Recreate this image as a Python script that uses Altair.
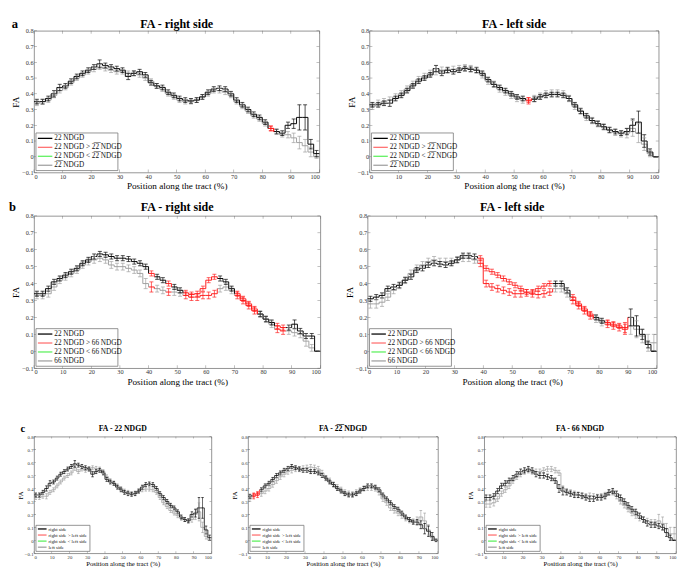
import altair as alt
import pandas as pd

# ---------------- data (every 2 % of the tract) ----------------
POS = list(range(0, 100, 2))
STEP = 2
XTICKS = list(range(0, 101, 10))
YTICKS = [-0.1, 0.0, 0.1, 0.2, 0.3, 0.4, 0.5, 0.6, 0.7, 0.8]

# panel a, right side: 22 NDGD (black) and 22-bar NDGD (gray)
A_R_22 = [0.35, 0.35, 0.37, 0.40, 0.44, 0.45, 0.48, 0.51, 0.53, 0.55,
          0.57, 0.59, 0.58, 0.57, 0.56, 0.55, 0.51, 0.53, 0.54, 0.52,
          0.47, 0.45, 0.44, 0.41, 0.39, 0.37, 0.36, 0.355, 0.36, 0.38,
          0.41, 0.43, 0.435, 0.43, 0.40, 0.36, 0.33, 0.30, 0.27, 0.25,
          0.22, 0.18, 0.16, 0.15, 0.20, 0.21, 0.25, 0.25, 0.08, 0.02]
A_R_22_E = [0.015, 0.015, 0.015, 0.02, 0.02, 0.015, 0.015, 0.015, 0.015, 0.015,
            0.015, 0.025, 0.015, 0.015, 0.015, 0.015, 0.02, 0.015, 0.015, 0.015,
            0.015, 0.015, 0.015, 0.015, 0.015, 0.015, 0.015, 0.015, 0.015, 0.015,
            0.015, 0.015, 0.015, 0.015, 0.015, 0.015, 0.015, 0.015, 0.015, 0.015,
            0.015, 0.015, 0.015, 0.015, 0.02, 0.03, 0.08, 0.08, 0.03, 0.02]
A_R_BAR = [0.34, 0.35, 0.36, 0.39, 0.42, 0.44, 0.47, 0.50, 0.52, 0.54,
           0.555, 0.57, 0.56, 0.55, 0.54, 0.54, 0.53, 0.53, 0.52, 0.50,
           0.48, 0.45, 0.43, 0.40, 0.38, 0.36, 0.35, 0.35, 0.36, 0.38,
           0.40, 0.42, 0.42, 0.41, 0.39, 0.35, 0.32, 0.29, 0.26, 0.24,
           0.21, 0.18, 0.16, 0.14, 0.14, 0.12, 0.09, 0.07, 0.03, 0.0]
A_R_BAR_E = [0.015, 0.015, 0.015, 0.015, 0.015, 0.015, 0.015, 0.015, 0.015, 0.015,
             0.015, 0.015, 0.015, 0.015, 0.015, 0.015, 0.015, 0.015, 0.015, 0.015,
             0.015, 0.015, 0.015, 0.015, 0.015, 0.015, 0.015, 0.015, 0.015, 0.015,
             0.015, 0.015, 0.015, 0.015, 0.015, 0.015, 0.015, 0.015, 0.015, 0.015,
             0.015, 0.015, 0.015, 0.015, 0.02, 0.03, 0.04, 0.04, 0.03, 0.01]
A_R_SIG = [82]

# panel a, left side
A_L_22 = [0.33, 0.33, 0.34, 0.34, 0.37, 0.39, 0.42, 0.45, 0.48, 0.50,
          0.52, 0.56, 0.53, 0.55, 0.54, 0.55, 0.56, 0.555, 0.55, 0.53,
          0.49, 0.46, 0.44, 0.42, 0.40, 0.38, 0.37, 0.36, 0.365, 0.38,
          0.39, 0.395, 0.395, 0.39, 0.37, 0.33, 0.29, 0.26, 0.23, 0.21,
          0.19, 0.17, 0.16, 0.15, 0.16, 0.20, 0.22, 0.10, 0.03, 0.0]
A_L_22_E = [0.015, 0.015, 0.015, 0.02, 0.015, 0.015, 0.015, 0.015, 0.015, 0.015,
            0.015, 0.02, 0.015, 0.015, 0.015, 0.015, 0.015, 0.015, 0.015, 0.015,
            0.015, 0.015, 0.015, 0.015, 0.015, 0.015, 0.015, 0.015, 0.015, 0.015,
            0.015, 0.015, 0.015, 0.015, 0.015, 0.015, 0.015, 0.015, 0.015, 0.015,
            0.015, 0.015, 0.015, 0.015, 0.02, 0.04, 0.07, 0.04, 0.02, 0.0]
A_L_BAR = [0.32, 0.34, 0.35, 0.36, 0.38, 0.40, 0.43, 0.46, 0.49, 0.51,
           0.53, 0.54, 0.55, 0.55, 0.555, 0.56, 0.565, 0.56, 0.55, 0.52,
           0.48, 0.46, 0.43, 0.41, 0.39, 0.37, 0.36, 0.355, 0.37, 0.385,
           0.40, 0.405, 0.405, 0.40, 0.37, 0.32, 0.29, 0.25, 0.23, 0.21,
           0.19, 0.17, 0.155, 0.145, 0.15, 0.18, 0.15, 0.08, 0.02, 0.0]
A_L_BAR_E = [0.02, 0.02, 0.02, 0.02, 0.02, 0.02, 0.02, 0.02, 0.02, 0.02,
             0.02, 0.02, 0.02, 0.02, 0.02, 0.02, 0.02, 0.02, 0.02, 0.02,
             0.02, 0.02, 0.02, 0.02, 0.02, 0.02, 0.02, 0.02, 0.02, 0.02,
             0.02, 0.02, 0.02, 0.02, 0.02, 0.02, 0.02, 0.02, 0.02, 0.02,
             0.02, 0.02, 0.02, 0.02, 0.03, 0.05, 0.06, 0.04, 0.02, 0.0]
A_L_SIG = [54]

# panel b, right side: 22 NDGD (black) and 66 NDGD (gray)
B_R_22 = [0.34, 0.34, 0.37, 0.41, 0.43, 0.45, 0.47, 0.49, 0.52, 0.54,
          0.56, 0.575, 0.57, 0.56, 0.55, 0.55, 0.545, 0.53, 0.52, 0.50,
          0.46, 0.44, 0.42, 0.40, 0.38, 0.36, 0.345, 0.335, 0.34, 0.37,
          0.42, 0.44, 0.43, 0.41, 0.37, 0.34, 0.31, 0.28, 0.25, 0.22,
          0.19, 0.17, 0.15, 0.14, 0.14, 0.16, 0.12, 0.09, 0.09, 0.0]
B_R_22_E = [0.015, 0.015, 0.015, 0.015, 0.015, 0.015, 0.015, 0.015, 0.015, 0.015,
            0.015, 0.015, 0.015, 0.015, 0.015, 0.015, 0.015, 0.015, 0.015, 0.015,
            0.015, 0.015, 0.015, 0.015, 0.015, 0.015, 0.015, 0.015, 0.015, 0.015,
            0.015, 0.015, 0.015, 0.015, 0.015, 0.015, 0.015, 0.015, 0.015, 0.015,
            0.015, 0.015, 0.015, 0.015, 0.015, 0.025, 0.015, 0.015, 0.015, 0.0]
B_R_66 = [0.33, 0.33, 0.34, 0.38, 0.42, 0.44, 0.46, 0.48, 0.51, 0.53,
          0.54, 0.55, 0.54, 0.51, 0.50, 0.50, 0.49, 0.48, 0.46, 0.40,
          0.38, 0.37, 0.36, 0.35, 0.35, 0.345, 0.33, 0.32, 0.32, 0.33,
          0.33, 0.34, 0.37, 0.38, 0.36, 0.33, 0.30, 0.27, 0.24, 0.22,
          0.19, 0.16, 0.13, 0.12, 0.12, 0.11, 0.10, 0.06, 0.02, 0.0]
B_R_66_E = [0.02, 0.02, 0.02, 0.02, 0.02, 0.02, 0.02, 0.02, 0.02, 0.02,
            0.02, 0.02, 0.02, 0.02, 0.02, 0.02, 0.02, 0.02, 0.02, 0.03,
            0.03, 0.02, 0.02, 0.02, 0.02, 0.02, 0.02, 0.02, 0.02, 0.02,
            0.02, 0.02, 0.02, 0.02, 0.02, 0.02, 0.02, 0.02, 0.02, 0.02,
            0.02, 0.02, 0.02, 0.02, 0.02, 0.02, 0.02, 0.03, 0.02, 0.0]
B_R_SIG = [40, 46, 52, 54, 56, 58, 60, 62, 70, 72, 74, 76, 84, 86]

# panel b, left side
B_L_22 = [0.31, 0.32, 0.33, 0.37, 0.38, 0.39, 0.42, 0.44, 0.48, 0.49,
          0.51, 0.52, 0.515, 0.51, 0.52, 0.54, 0.565, 0.565, 0.56, 0.55,
          0.49, 0.47, 0.45, 0.43, 0.41, 0.39, 0.37, 0.35, 0.35, 0.37,
          0.385, 0.40, 0.40, 0.40, 0.36, 0.32, 0.28, 0.25, 0.22, 0.20,
          0.18, 0.17, 0.16, 0.15, 0.14, 0.20, 0.15, 0.10, 0.04, 0.0]
B_L_22_E = [0.015, 0.015, 0.015, 0.015, 0.015, 0.015, 0.015, 0.015, 0.015, 0.015,
            0.015, 0.015, 0.015, 0.015, 0.015, 0.015, 0.015, 0.015, 0.015, 0.015,
            0.015, 0.015, 0.015, 0.015, 0.015, 0.015, 0.015, 0.015, 0.015, 0.015,
            0.015, 0.015, 0.015, 0.015, 0.015, 0.015, 0.015, 0.015, 0.015, 0.015,
            0.015, 0.015, 0.015, 0.015, 0.03, 0.05, 0.06, 0.03, 0.02, 0.0]
B_L_66 = [0.28, 0.28, 0.29, 0.32, 0.36, 0.39, 0.42, 0.46, 0.49, 0.51,
          0.53, 0.54, 0.53, 0.53, 0.53, 0.54, 0.55, 0.55, 0.54, 0.52,
          0.40, 0.38, 0.37, 0.36, 0.35, 0.34, 0.34, 0.345, 0.34, 0.335,
          0.34, 0.35, 0.37, 0.37, 0.34, 0.30, 0.27, 0.24, 0.21, 0.19,
          0.17, 0.16, 0.15, 0.14, 0.13, 0.15, 0.13, 0.09, 0.05, 0.05]
B_L_66_E = [0.025, 0.025, 0.025, 0.02, 0.02, 0.02, 0.02, 0.02, 0.02, 0.02,
            0.02, 0.02, 0.02, 0.02, 0.02, 0.02, 0.02, 0.02, 0.02, 0.02,
            0.02, 0.02, 0.02, 0.02, 0.02, 0.02, 0.02, 0.02, 0.02, 0.02,
            0.02, 0.02, 0.02, 0.02, 0.02, 0.02, 0.02, 0.02, 0.02, 0.02,
            0.02, 0.02, 0.02, 0.02, 0.03, 0.05, 0.05, 0.04, 0.05, 0.05]
B_L_SIG = [38, 40, 42, 44, 46, 48, 50, 52, 54, 56, 58, 60, 62, 70, 72, 74, 76, 82, 84, 86, 88]

C_MID_SIG = [2, 4]

OVER = "2\u03052\u0305"
TITLES_AB = ["FA - right side", "FA - left side"]
TITLES_C = ["FA - 22 NDGD", "FA - " + OVER + " NDGD", "FA - 66 NDGD"]
LEG_A = ["22 NDGD", "22 NDGD > " + OVER + " NDGD", "22 NDGD < " + OVER + " NDGD", OVER + " NDGD"]
LEG_B = ["22 NDGD", "22 NDGD > 66 NDGD", "22 NDGD < 66 NDGD", "66 NDGD"]
LEG_C = ["right side", "right side > left side", "right side < left side", "left side"]

BLACK = "#000000"
GRAY = "#9e9e9e"
RED = "#ff1a1a"
LEG_COLORS = ["#000000", "#ff6e6e", "#5cf05c", "#a0a0a0"]
SERIF = "Liberation Serif"

BIG = dict(lw=1.0, ew=0.7, cap=0.7, lfs=6.5, afs=9.5, tfs=12.5, ty=-9,
           lg_w=85, lg_h=39, lg_row=9.3, lg_line=15, lg_fs=7.5, tk=3, lpad=1, ltfs=13)
SMALL = dict(lw=0.8, ew=0.6, cap=0.7, lfs=5, afs=7, tfs=8, ty=-8,
             lg_w=56, lg_h=27, lg_row=6.3, lg_line=9, lg_fs=5, tk=2, lpad=1, ltfs=11)


def build_df(s1, e1, s2, e2, sig):
    rows = []
    for z, (ys, es, col) in enumerate([(s2, e2, GRAY), (s1, e1, BLACK)]):
        for i, x in enumerate(POS):
            y = ys[i]
            yn = ys[i + 1] if i + 1 < len(ys) else ys[i]
            e = es[i]
            red = x in sig
            rows.append(dict(x=x, xe=x + STEP, xm=x + STEP / 2,
                             xl=x + STEP / 2 - 0.7, xr=x + STEP / 2 + 0.7,
                             y=y, yn=yn, lo=y - e, hi=y + e,
                             c=RED if red else col, z=2 if red else z))
    return pd.DataFrame(rows).sort_values("z", kind="stable")


def panel(s1, e1, s2, e2, sig, title, labels, w, h, S, letter=None, letter_dx=-22, ty=None):
    if ty is None:
        ty = S["ty"]
    df = build_df(s1, e1, s2, e2, sig)
    base = alt.Chart(df)
    xs = alt.Scale(domain=[0, 100], nice=False, zero=False)
    ys = alt.Scale(domain=[-0.1, 0.8], nice=False, zero=False)
    col = alt.Color("c:N", scale=None, legend=None)
    common = dict(labelFontSize=S["lfs"], titleFontSize=S["afs"], labelFont=SERIF,
                  titleFont=SERIF, titleFontWeight="normal", ticks=False, domain=False,
                  grid=False, labelPadding=S["lpad"], labelColor="#333333", titleColor="#000000")
    xaxis = alt.Axis(title="Position along the tract (%)", values=XTICKS, titlePadding=1, **common)
    yaxis = alt.Axis(title="FA", values=YTICKS, titlePadding=1,
                     labelExpr="datum.value == 0 ? '0' : format(datum.value, '.1f')", **common)

    def X(f):
        return alt.X(f, scale=xs, axis=xaxis)

    def Y(f):
        return alt.Y(f, scale=ys, axis=yaxis)

    err = base.mark_rule(strokeWidth=S["ew"]).encode(x=X("xm:Q"), y=Y("lo:Q"), y2="hi:Q", color=col)
    caplo = base.mark_rule(strokeWidth=S["cap"]).encode(x=X("xl:Q"), x2="xr:Q", y=Y("lo:Q"), color=col)
    caphi = base.mark_rule(strokeWidth=S["cap"]).encode(x=X("xl:Q"), x2="xr:Q", y=Y("hi:Q"), color=col)
    hor = base.mark_rule(strokeWidth=S["lw"]).encode(x=X("x:Q"), x2="xe:Q", y=Y("y:Q"), color=col)
    ver = base.mark_rule(strokeWidth=S["lw"]).encode(x=X("xe:Q"), y=Y("y:Q"), y2="yn:Q", color=col)

    xt = pd.DataFrame({"t": XTICKS})
    yt = pd.DataFrame({"t": YTICKS})
    tk = S["tk"]
    tick_kw = dict(thickness=0.6, color="#666666", size=tk)
    ticks = [
        alt.Chart(xt).mark_tick(orient="vertical", **tick_kw).encode(x=X("t:Q"), y=alt.value(h - tk / 2)),
        alt.Chart(xt).mark_tick(orient="vertical", **tick_kw).encode(x=X("t:Q"), y=alt.value(tk / 2)),
        alt.Chart(yt).mark_tick(orient="horizontal", **tick_kw).encode(y=Y("t:Q"), x=alt.value(tk / 2)),
        alt.Chart(yt).mark_tick(orient="horizontal", **tick_kw).encode(y=Y("t:Q"), x=alt.value(w - tk / 2)),
    ]

    one = pd.DataFrame({"k": [0]})
    lx = 2
    ly = h - S["lg_h"] - 2
    legend = [alt.Chart(one).mark_rect(fill="white", stroke="#777777", strokeWidth=0.8).encode(
        x=alt.value(lx), x2=alt.value(lx + S["lg_w"]), y=alt.value(ly), y2=alt.value(ly + S["lg_h"]))]
    for i, (lab, c) in enumerate(zip(labels, LEG_COLORS)):
        yy = ly + S["lg_row"] * (i + 0.6)
        legend.append(alt.Chart(one).mark_rule(color=c, strokeWidth=1.3).encode(
            x=alt.value(lx + 2), x2=alt.value(lx + 2 + S["lg_line"]), y=alt.value(yy)))
        legend.append(alt.Chart(one).mark_text(text=lab, align="left", baseline="middle",
                                               font=SERIF, fontSize=S["lg_fs"], color="#111111").encode(
            x=alt.value(lx + 4 + S["lg_line"]), y=alt.value(yy)))

    title_mark = alt.Chart(one).mark_text(text=title, align="center", baseline="middle", font=SERIF,
                                          fontSize=S["tfs"], fontWeight="bold", color="#000000").encode(
        x=alt.value(w / 2), y=alt.value(ty))

    layers = [hor, err, caplo, caphi, ver] + ticks + legend + [title_mark]
    if letter:
        layers.append(alt.Chart(one).mark_text(text=letter, align="left", baseline="middle",
                                               font=SERIF, fontSize=S["ltfs"], fontWeight="bold").encode(
            x=alt.value(letter_dx), y=alt.value(ty)))
    return alt.layer(*layers).properties(width=w, height=h)


pa1 = panel(A_R_22, A_R_22_E, A_R_BAR, A_R_BAR_E, A_R_SIG, TITLES_AB[0], LEG_A, 296, 147, BIG, "a", -23, ty=-6.5)
pa2 = panel(A_L_22, A_L_22_E, A_L_BAR, A_L_BAR_E, A_L_SIG, TITLES_AB[1], LEG_A, 300, 147, BIG, ty=-6.5)
pb1 = panel(B_R_22, B_R_22_E, B_R_66, B_R_66_E, B_R_SIG, TITLES_AB[0], LEG_B, 297, 158, BIG, "b", -26)
pb2 = panel(B_L_22, B_L_22_E, B_L_66, B_L_66_E, B_L_SIG, TITLES_AB[1], LEG_B, 300, 158, BIG)
pc1 = panel(A_R_22, A_R_22_E, A_L_22, A_L_22_E, [], TITLES_C[0], LEG_C, 184, 121, SMALL, "c", -14)
pc2 = panel(A_R_BAR, A_R_BAR_E, A_L_BAR, A_L_BAR_E, C_MID_SIG, TITLES_C[1], LEG_C, 197, 121, SMALL)
pc3 = panel(B_R_66, B_R_66_E, B_L_66, B_L_66_E, [], TITLES_C[2], LEG_C, 199, 121, SMALL)

row_a = alt.hconcat(pa1, pa2, spacing=26)
row_b = alt.hconcat(pb1, pb2, spacing=23)
row_c = alt.hconcat(alt.hconcat(pc1, pc2, spacing=18), pc3, spacing=28)

chart = alt.vconcat(alt.vconcat(row_a, row_b, spacing=10), row_c, spacing=37,
                    padding={"left": 0, "top": 0, "right": 0, "bottom": 0}).configure(
    padding={"left": 0, "top": 0, "right": 0, "bottom": 0}
).configure_view(stroke="#777777", strokeWidth=0.8)

chart.save("out.html", embed_options={"renderer": "svg", "actions": False})
